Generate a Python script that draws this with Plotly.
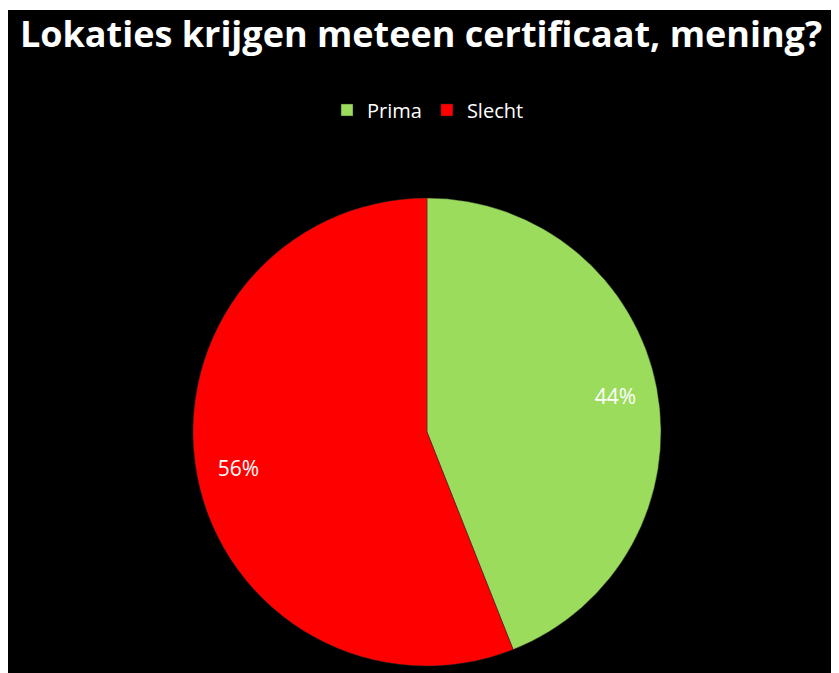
import plotly.graph_objects as go

labels = ["Prima", "Slecht"]
values = [44, 56]
colors = ["#9BDC5C", "#FF0000"]
title_text = "Lokaties krijgen meteen certificaat, mening?"

# page has an 8px body margin; figure drawn in the remaining area
OFF = 8
W, H = 839 - OFF, 673 - OFF


def px_x(x):
    return (x - OFF) / W


def px_y(y):
    return 1 - (y - OFF) / H


dom = dict(x=[px_x(193), px_x(661)], y=[px_y(666), px_y(198)])

fig = go.Figure()
fig.add_trace(go.Pie(
    labels=labels,
    values=values,
    sort=False,
    direction="clockwise",
    rotation=0,
    marker=dict(colors=colors, line=dict(color="rgba(40,40,40,0.45)", width=1)),
    textinfo="none",
    domain=dom,
    hoverinfo="label+percent",
))
# transparent ring trace only used to place the percentage labels near the rim
fig.add_trace(go.Pie(
    labels=labels,
    values=values,
    sort=False,
    direction="clockwise",
    rotation=0,
    hole=0.64,
    marker=dict(colors=["rgba(0,0,0,0)", "rgba(0,0,0,0)"], line=dict(width=0)),
    texttemplate="%{percent:.0%}",
    textposition="inside",
    insidetextorientation="horizontal",
    textfont=dict(color="white", size=21, family="Open Sans"),
    domain=dom,
    showlegend=False,
    hoverinfo="skip",
))

fig.update_layout(
    width=W, height=H,
    margin=dict(l=0, r=0, t=0, b=0),
    paper_bgcolor="white",
    shapes=[dict(type="rect", xref="paper", yref="paper",
                 x0=0, x1=px_x(834), y0=0, y1=px_y(10),
                 fillcolor="black", line=dict(width=0), layer="below")],
    title=dict(text=title_text, x=px_x(421), xanchor="center",
               y=px_y(34), yanchor="middle",
               font=dict(family="Open Sans", size=36, color="white", weight="bold")),
    legend=dict(orientation="h", x=px_x(428), xanchor="center", y=px_y(110), yanchor="middle",
                font=dict(color="white", size=20, family="Open Sans"),
                bgcolor="rgba(0,0,0,0)", itemwidth=30),
    showlegend=True,
)

fig.write_html("out.html")
